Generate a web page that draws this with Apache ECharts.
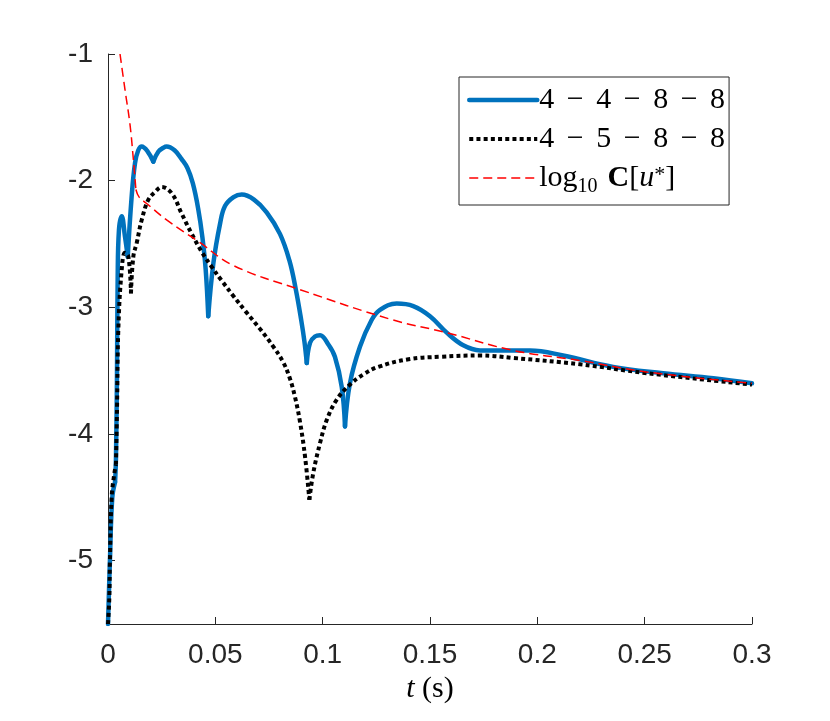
<!DOCTYPE html>
<html>
<head>
<meta charset="utf-8">
<script src="https://cdn.jsdelivr.net/npm/echarts@6/dist/echarts.min.js"></script>
<style>
html, body { margin: 0; padding: 0; background: #fff; }
#main { width: 830px; height: 721px; }
</style>
</head>
<body>
<div id="main"></div>
<script>
// series names (legend texts)
var sp = '\u2004\u200a';
var nameA = ['4', '4', '8', '8'].join(sp + '\u2212' + sp);
var nameB = ['4', '5', '8', '8'].join(sp + '\u2212' + sp);
var nameC = 'logC';

// 4-4-8-8
var blueT = [0, 0.0009, 0.002, 0.0033, 0.0037, 0.0042, 0.0045, 0.0051, 0.0064, 0.0079, 0.0092,
    0.011, 0.0126, 0.0141, 0.0157, 0.0185, 0.0211, 0.0235, 0.0258, 0.0273, 0.031, 0.0343, 0.037, 0.0395,
    0.042, 0.044, 0.0455, 0.0467, 0.0491, 0.0522, 0.0545, 0.0585, 0.0623, 0.068, 0.0739, 0.0801, 0.0845,
    0.0875, 0.09, 0.0915, 0.0926, 0.0941, 0.0964, 0.0988, 0.1025, 0.1057, 0.1089, 0.1104, 0.1127, 0.1174,
    0.1228, 0.1267, 0.1345, 0.1422, 0.15, 0.1578, 0.1655, 0.1733, 0.185, 0.1966, 0.212, 0.2353, 0.2586,
    0.282, 0.3];
var blueY = [-5.5, -5.0, -4.5, -4.38, -4.2, -3.5, -2.78, -2.39, -2.28, -2.44, -2.6,
    -2.13, -1.86, -1.76, -1.73, -1.77, -1.85, -1.77, -1.74, -1.73, -1.76, -1.83, -1.9, -2.02,
    -2.22, -2.45, -2.7, -3.07, -2.65, -2.34, -2.2, -2.13, -2.11, -2.15, -2.25, -2.42, -2.63,
    -2.86, -3.1, -3.27, -3.44, -3.28, -3.23, -3.22, -3.29, -3.39, -3.63, -3.94, -3.6, -3.31,
    -3.1, -3.02, -2.97, -2.99, -3.07, -3.2, -3.3, -3.34, -3.34, -3.34, -3.38, -3.47, -3.52,
    -3.56, -3.6];
var blueCusps = [0.0033, 0.0092, 0.0211, 0.0467, 0.0926, 0.1104];

// 4-5-8-8
var blackT = [0, 0.0006, 0.0009, 0.0017, 0.0028, 0.0037, 0.0042, 0.0048, 0.0064, 0.0079, 0.0095, 0.0107,
    0.0118, 0.0134, 0.0157, 0.0188, 0.0219, 0.025, 0.0297, 0.0343, 0.039, 0.0436, 0.0483, 0.053, 0.0584,
    0.064, 0.0708, 0.077, 0.0815, 0.0845, 0.087, 0.0894, 0.0918, 0.0938, 0.0956, 0.0988, 0.1019, 0.1065,
    0.1127, 0.1189, 0.1259, 0.14, 0.155, 0.1733, 0.189, 0.2199, 0.2509, 0.3];
var blackY = [-5.5, -5.3, -5.0, -4.5, -4.33, -4.24, -3.8, -3.18, -2.7, -2.57, -2.6, -2.89,
    -2.6, -2.49, -2.31, -2.15, -2.09, -2.05, -2.1, -2.26, -2.42, -2.56, -2.68, -2.79, -2.91,
    -3.03, -3.17, -3.31, -3.43, -3.55, -3.7, -3.9, -4.18, -4.52, -4.31, -4.07, -3.89, -3.73,
    -3.61, -3.53, -3.47, -3.41, -3.39, -3.38, -3.40, -3.45, -3.52, -3.61];
var blackCusps = [0.0037, 0.0107, 0.0938];

// log10 C[u*]
var redT = [0.0056, 0.0079, 0.0102, 0.0117, 0.013, 0.0145, 0.018, 0.0273, 0.0429, 0.0584, 0.0894, 0.1328,
    0.1578, 0.1887, 0.2199, 0.2509, 0.3];
var redY = [-1.0, -1.28, -1.55, -1.81, -2.07, -2.13, -2.18, -2.31, -2.49, -2.67, -2.86, -3.1,
    -3.2, -3.34, -3.42, -3.51, -3.6];
var redCusps = [0.013];

var yTicks = [-5, -4, -3, -2, -1];

// cut a curve into smooth pieces at its sharp points (each cusp belongs to both pieces)
function pieces(t, y, cusps) {
    var out = [], cur = [];
    for (var i = 0; i < t.length; i++) {
        cur.push([t[i], y[i]]);
        if (cusps.indexOf(t[i]) >= 0) {
            out.push(cur);
            cur = [[t[i], y[i]]];
        }
    }
    if (cur.length > 1) out.push(cur);
    return out;
}

var axisColor = '#262626';
var labelFont = 'Liberation Sans';
var serif = 'Liberation Serif';

var styles = [
    { name: nameA, t: blueT, y: blueY, cusps: blueCusps, line: { color: '#0072BD', width: 4.5, cap: 'round', join: 'round' } },
    { name: nameB, t: blackT, y: blackY, cusps: blackCusps, line: { color: '#000', width: 4, type: [4, 3.2], cap: 'butt' } },
    { name: nameC, t: redT, y: redY, cusps: redCusps, line: { color: '#ff0000', width: 1.5, type: [9, 5] } }
];

var series = [];
styles.forEach(function (s) {
    pieces(s.t, s.y, s.cusps).forEach(function (part) {
        series.push({
            name: s.name,
            type: 'line',
            data: part,
            symbol: 'none',
            smooth: 0.4,
            lineStyle: s.line,
            itemStyle: { color: s.line.color }
        });
    });
});

var myChart = echarts.init(document.getElementById('main'));
var option = {
    backgroundColor: '#fff',
    animation: false,
    grid: { left: 108, right: 78, top: 54, bottom: 97 },
    legend: {
        orient: 'vertical',
        left: 459,
        top: 77,
        padding: [8, 4, 8, 8],
        itemWidth: 68,
        itemHeight: 14,
        itemGap: 9,
        borderColor: axisColor,
        borderWidth: 1,
        backgroundColor: '#fff',
        itemStyle: { opacity: 0 },
        lineStyle: { width: 'inherit', type: 'inherit' },
        data: [nameA, nameB, nameC],
        formatter: function (name) {
            if (name === nameC) {
                return '{n|log}{s|10}{n|\u2004}{b|C}{n|[}{i|u}{p|*}{n|]}';
            }
            return name;
        },
        textStyle: {
            fontFamily: serif,
            fontSize: 30,
            color: '#000',
            padding: [0, 0, 0, -3],
            rich: {
                n: { fontFamily: serif, fontSize: 30, color: '#000' },
                s: { fontFamily: serif, fontSize: 20, color: '#000', padding: [18, 0, 0, 0] },
                b: { fontFamily: serif, fontSize: 30, fontWeight: 'bold', color: '#000' },
                i: { fontFamily: serif, fontSize: 30, fontStyle: 'italic', color: '#000' },
                p: { fontFamily: serif, fontSize: 22, color: '#000', padding: [0, 0, 6, 0] }
            }
        }
    },
    xAxis: {
        type: 'value',
        min: 0,
        max: 0.3,
        interval: 0.05,
        name: '{i|t} (s)',
        nameLocation: 'middle',
        nameGap: 50,
        nameTextStyle: {
            fontFamily: serif,
            fontSize: 30,
            color: '#000',
            rich: { i: { fontFamily: serif, fontSize: 30, fontStyle: 'italic', color: '#000' } }
        },
        axisLine: { lineStyle: { color: axisColor, width: 1 } },
        axisTick: { inside: true, length: 7, lineStyle: { color: axisColor } },
        axisLabel: { fontFamily: labelFont, fontSize: 28, color: axisColor, margin: 17 },
        splitLine: { show: false }
    },
    yAxis: {
        type: 'value',
        min: -5.5,
        max: -1,
        axisLine: { show: true, lineStyle: { color: axisColor, width: 1 } },
        axisTick: { show: true, inside: true, length: 7, lineStyle: { color: axisColor }, customValues: yTicks },
        axisLabel: { fontFamily: labelFont, fontSize: 28, color: axisColor, margin: 15, customValues: yTicks },
        splitLine: { show: false }
    },
    series: series
};
myChart.setOption(option);
window.onresize = myChart.resize;
</script>
</body>
</html>
